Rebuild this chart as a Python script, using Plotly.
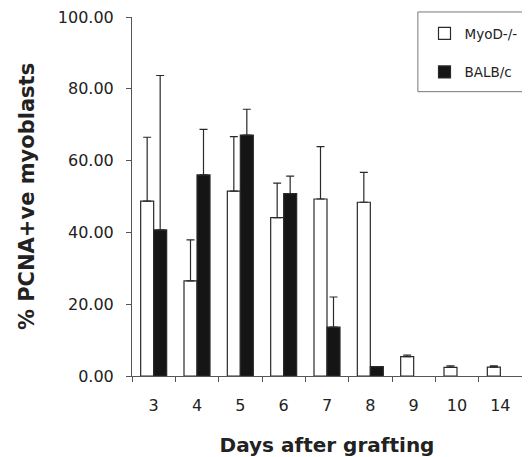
import plotly.graph_objects as go

days = ["3", "4", "5", "6", "7", "8", "9", "10", "14"]
myod = [48.7, 26.5, 51.5, 44.1, 49.3, 48.4, 5.4, 2.4, 2.5]
myod_err = [17.8, 11.4, 15.2, 9.6, 14.6, 8.3, 0.4, 0.4, 0.3]
balb = [40.7, 56.0, 67.1, 50.8, 13.6, 2.6, None, None, None]
balb_err = [43.0, 12.7, 7.2, 4.9, 8.4, 0, 0, 0, 0]
ytick_vals = [0, 20, 40, 60, 80, 100]
ytick_text = ["0.00", "20.00", "40.00", "60.00", "80.00", "100.00"]

FONT = "DejaVu Sans, Liberation Sans, Arial, sans-serif"
EDGE = "#2a2a2a"

fig = go.Figure()
fig.add_trace(go.Bar(
    x=days, y=myod, name="MyoD-/-", legendgroup="a",
    marker=dict(color="white", line=dict(color=EDGE, width=1.2)),
    error_y=dict(type="data", array=myod_err, symmetric=False,
                 arrayminus=[0] * len(myod), color=EDGE, thickness=1.2, width=4),
))
fig.add_trace(go.Bar(
    x=days, y=balb, name="BALB/c", legendgroup="b",
    marker=dict(color="#151515", line=dict(color=EDGE, width=1.2)),
    error_y=dict(type="data", array=balb_err, symmetric=False,
                 arrayminus=[0] * len(balb), color=EDGE, thickness=1.2, width=4),
))

fig.update_layout(
    width=522, height=449,
    margin=dict(l=124, r=8, t=9, b=81, autoexpand=False),
    paper_bgcolor="white", plot_bgcolor="white",
    barmode="group", bargap=0.4, bargroupgap=0,
    font=dict(family=FONT, color="#222222"),
    showlegend=True,
    legend=dict(x=0.75, y=0.997, xanchor="left", yanchor="top",
                bgcolor="rgba(0,0,0,0)", borderwidth=0,
                font=dict(size=13.5, family=FONT),
                traceorder="grouped", tracegroupgap=18),
    shapes=[dict(type="rect", xref="paper", yref="paper",
                 x0=0.733, x1=1.013, y0=0.792, y1=1.014,
                 line=dict(color="#777777", width=1))],
)
fig.update_xaxes(
    type="category", showline=True, linecolor="#555555", linewidth=1,
    ticks="outside", tickson="boundaries", ticklen=5, tickcolor="#555555",
    tickfont=dict(size=16, family=FONT), ticklabelstandoff=15,
    title=dict(text="<b>Days after grafting</b>", font=dict(size=20, family=FONT), standoff=23),
    showgrid=False, automargin=False,
)
fig.update_yaxes(
    range=[0, 100], showline=True, linecolor="#555555", linewidth=1,
    ticks="outside", ticklen=5, tickcolor="#555555",
    tickvals=ytick_vals, ticktext=ytick_text, ticklabeloverflow="allow",
    tickfont=dict(size=16, family=FONT), ticklabelstandoff=9,
    title=dict(text="<b>% PCNA+ve myoblasts</b>", font=dict(size=21, family=FONT), standoff=17),
    showgrid=False, zeroline=False, automargin=False,
)

fig.write_html("out.html")
